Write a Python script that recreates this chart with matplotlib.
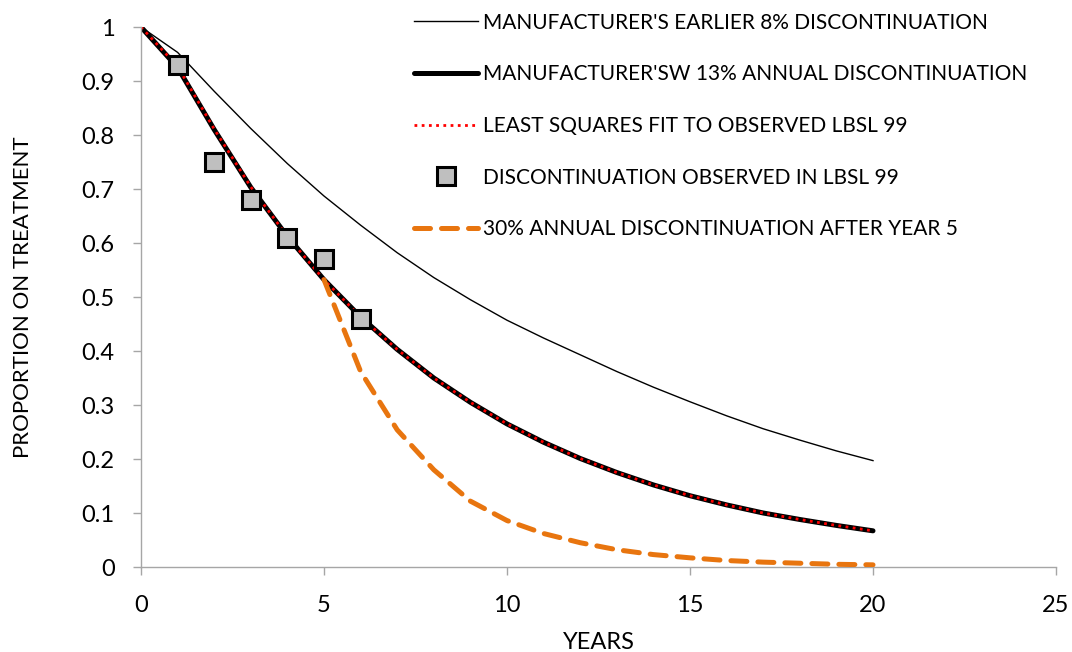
import matplotlib.pyplot as plt

plt.rcParams['font.family'] = ['Lato', 'DejaVu Sans']

# Data
years = list(range(0, 21))
earlier_8 = [1.0, 0.953, 0.881, 0.812, 0.747, 0.687, 0.633, 0.582, 0.536, 0.495, 0.457,
             0.424, 0.393, 0.362, 0.333, 0.306, 0.28, 0.256, 0.235, 0.215, 0.197]
annual_13 = [1.0, 0.925, 0.81, 0.703, 0.612, 0.532, 0.463, 0.403, 0.35, 0.305, 0.265,
             0.231, 0.201, 0.175, 0.152, 0.132, 0.115, 0.1, 0.088, 0.077, 0.067]
lsq_fit = [1.0, 0.927, 0.811, 0.704, 0.612, 0.532, 0.463, 0.403, 0.35, 0.305, 0.265,
           0.231, 0.201, 0.175, 0.152, 0.132, 0.115, 0.1, 0.088, 0.077, 0.067]
after5_years = list(range(5, 21))
after5_30 = [0.532, 0.362, 0.254, 0.18, 0.122, 0.086, 0.062, 0.045, 0.032, 0.023,
             0.017, 0.012, 0.009, 0.007, 0.005, 0.004]
obs_years = [1, 2, 3, 4, 5, 6]
obs_vals = [0.93, 0.75, 0.68, 0.61, 0.57, 0.46]

fig = plt.figure(figsize=(10.72, 6.52), dpi=100)
ax = fig.add_axes([141 / 1072, 1 - 567 / 652, (1056 - 141) / 1072, (567 - 27) / 652])

ax.plot(years, earlier_8, color='black', lw=1.0,
        label="MANUFACTURER'S EARLIER 8% DISCONTINUATION")
ax.plot(years, annual_13, color='black', lw=3.6, solid_capstyle='round',
        label="MANUFACTURER'SW 13% ANNUAL DISCONTINUATION")
ax.plot(years, lsq_fit, color='#ff0000', lw=2.0, linestyle=(0, (1, 1.6)),
        label="LEAST SQUARES FIT TO OBSERVED LBSL 99")
ax.plot(obs_years, obs_vals, linestyle='none', marker='s', markersize=13,
        markerfacecolor='#bfbfbf', markeredgecolor='black', markeredgewidth=2.2,
        label="DISCONTINUATION OBSERVED IN LBSL 99", zorder=5)
ax.plot(after5_years, after5_30, color='#e8750f', lw=3.6, linestyle=(0, (3.2, 2.2)),
        dash_capstyle='round', label="30% ANNUAL DISCONTINUATION AFTER YEAR 5", zorder=4)

ax.set_xlim(0, 25)
ax.set_ylim(0, 1)
ax.set_xticks([0, 5, 10, 15, 20, 25])
ax.set_yticks([0, 0.1, 0.2, 0.3, 0.4, 0.5, 0.6, 0.7, 0.8, 0.9, 1])
ax.set_yticklabels(['0', '0.1', '0.2', '0.3', '0.4', '0.5', '0.6', '0.7', '0.8', '0.9', '1'])

for s in ['top', 'right']:
    ax.spines[s].set_visible(False)
for s in ['left', 'bottom']:
    ax.spines[s].set_color('#a6a6a6')
    ax.spines[s].set_linewidth(1.0)
ax.tick_params(axis='both', colors='#a6a6a6', labelcolor='black', labelsize=17,
               length=6, width=1.0, direction='out')
ax.tick_params(axis='x', pad=14)
ax.tick_params(axis='y', pad=13)

ax.set_xlabel('YEARS', fontsize=17, labelpad=12)
ax.set_ylabel('PROPORTION ON TREATMENT', fontsize=16, labelpad=35)

handles, labels = ax.get_legend_handles_labels()
leg = fig.legend(handles, labels, loc='upper left', bbox_to_anchor=(399 / 1072, 1 + 2 / 652),
                 frameon=False, fontsize=15, handlelength=3.1, handletextpad=0.25,
                 labelspacing=1.52, borderaxespad=0.3)
leg.set_zorder(10)

fig.savefig('out.png', dpi=100)
